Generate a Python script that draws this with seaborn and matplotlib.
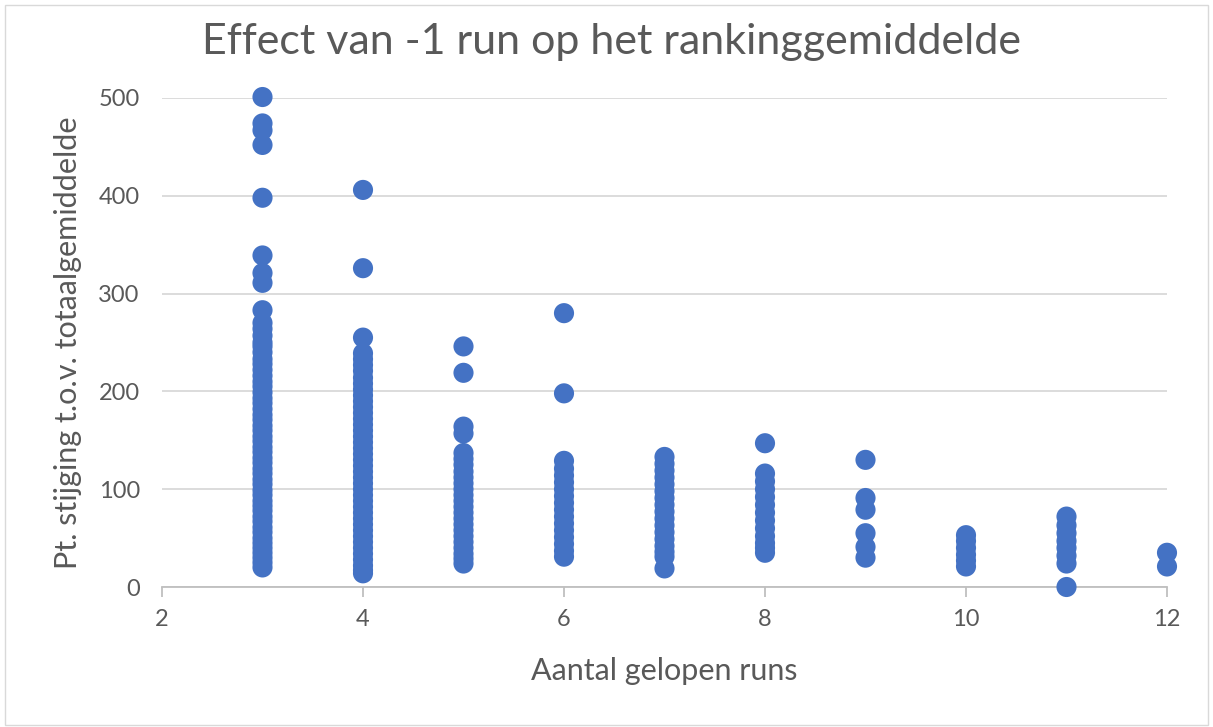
import matplotlib
matplotlib.use("Agg")
import matplotlib.pyplot as plt
import seaborn as sns
import pandas as pd

# Data per number of runs
runs_3 = [501, 474, 467, 452, 398, 339, 321, 311, 283, 270, 264, 257, 250, 246, 240, 233,
          228, 222, 216, 210, 205, 199, 193, 188, 182, 176, 171, 165, 160, 154, 149, 143,
          138, 132, 127, 121, 116, 110, 105, 99, 94, 88, 83, 78, 72, 67, 61, 56, 50, 45,
          40, 35, 30, 25, 20]
runs_4 = [406, 326, 255, 239, 233, 227, 221, 214, 208, 202, 196, 190, 184, 178, 172, 166,
          160, 154, 148, 142, 136, 130, 124, 118, 112, 106, 100, 94, 88, 82, 76, 70, 64,
          58, 52, 46, 40, 34, 28, 22, 17, 14]
runs_5 = [246, 219, 164, 157, 137, 131, 125, 118, 112, 106, 100, 94, 88, 82, 76, 70, 64,
          58, 52, 46, 40, 34, 29, 24]
runs_6 = [280, 198, 129, 121, 114, 107, 100, 93, 86, 79, 72, 65, 58, 51, 44, 37, 31]
runs_7 = [133, 126, 119, 112, 105, 98, 91, 84, 77, 70, 63, 56, 49, 42, 36, 31, 19]
runs_8 = [147, 116, 108, 100, 92, 84, 76, 68, 60, 52, 45, 40, 35]
runs_9 = [130, 91, 79, 55, 41, 30]
runs_10 = [53, 47, 40, 33, 27, 21]
runs_11 = [72, 63, 55, 47, 40, 32, 24, 0]
runs_12 = [35, 21]

columns = {3: runs_3, 4: runs_4, 5: runs_5, 6: runs_6, 7: runs_7, 8: runs_8,
           9: runs_9, 10: runs_10, 11: runs_11, 12: runs_12}
xs, ys = [], []
for k, vals in columns.items():
    xs += [k] * len(vals)
    ys += vals
df = pd.DataFrame({"runs": xs, "stijging": ys})

x_ticks = [2, 4, 6, 8, 10, 12]
y_ticks = [0, 100, 200, 300, 400, 500]

sns.set_theme(style="white")
plt.rcParams['font.family'] = ['Lato', 'DejaVu Sans']

fig = plt.figure(figsize=(12.13, 7.27), dpi=100)
ax = fig.add_axes([162/1213, 1 - 587/727, (1167-162)/1213, (587-98)/727])

sns.scatterplot(data=df, x="runs", y="stijging", ax=ax, color="#4472C4",
                s=210, edgecolor="none", linewidth=0, alpha=1, zorder=3, clip_on=False)

ax.set_xlim(2, 12)
ax.set_ylim(0, 500)
ax.set_xticks(x_ticks)
ax.set_yticks(y_ticks)
ax.set_xticklabels([str(t) for t in x_ticks])
ax.set_yticklabels([str(t) for t in y_ticks])
ax.yaxis.grid(True, color="#d9d9d9", linewidth=1.3)
ax.xaxis.grid(False)
ax.set_axisbelow(True)
for side in ["left", "right", "top"]:
    ax.spines[side].set_visible(False)
ax.spines["bottom"].set_color("#bfbfbf")
ax.spines["bottom"].set_linewidth(1.3)
ax.tick_params(axis="x", colors="#595959", labelsize=17, length=7, width=1.3,
               direction="out", bottom=True, pad=9)
ax.tick_params(axis="x", color="#bfbfbf")
ax.tick_params(axis="y", colors="#595959", labelsize=17, length=0, pad=16)

ax.set_xlabel("Aantal gelopen runs", fontsize=22, color="#595959", labelpad=19)
ax.set_ylabel("Pt. stijging t.o.v. totaalgemiddelde", fontsize=22, color="#595959", labelpad=12)
fig.suptitle("Effect van -1 run op het rankinggemiddelde", fontsize=31, color="#595959",
             y=1 - 42/727, va="center", x=612/1213)

# light frame around the chart area
fig.patches.append(plt.Rectangle((0.004, 0.003), 0.992, 0.99, transform=fig.transFigure,
                                 fill=False, edgecolor="#d9d9d9", linewidth=1))

fig.savefig("out.png", dpi=100, facecolor="white")
